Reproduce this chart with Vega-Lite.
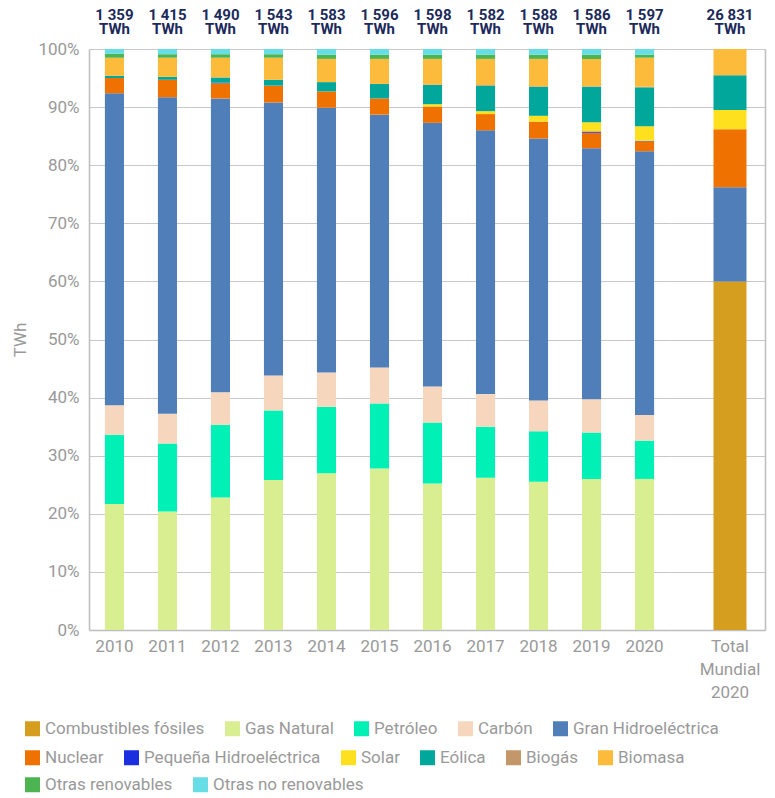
{
  "$schema": "https://vega.github.io/schema/vega-lite/v6.json",
  "background": "white",
  "padding": {"left": 11, "top": 8, "right": 8, "bottom": 5},
  "config": {
    "font": "Roboto",
    "view": {"stroke": null},
    "axis": {
      "labelFont": "Roboto", "labelFontSize": 17, "labelColor": "#999999",
      "titleFont": "Roboto", "titleFontSize": 17, "titleColor": "#999999", "titleFontWeight": "normal",
      "gridColor": "#c8c8c8", "gridWidth": 1, "domainColor": "#bdbdbd", "domainWidth": 1.5, "ticks": false
    },
    "legend": {
      "symbolType": "square", "symbolSize": 225, "symbolStrokeWidth": 0,
      "labelFont": "Roboto", "labelFontSize": 17, "labelColor": "#999999",
      "labelOffset": 4, "columnPadding": 19, "labelLimit": 400, "direction": "horizontal", "padding": 0
    }
  },
  "datasets": {
    "fuentes": [
      {"fuente": "Combustibles fósiles", "orden": 1},
      {"fuente": "Gas Natural", "orden": 2},
      {"fuente": "Petróleo", "orden": 3},
      {"fuente": "Carbón", "orden": 4},
      {"fuente": "Gran Hidroeléctrica", "orden": 5},
      {"fuente": "Nuclear", "orden": 6},
      {"fuente": "Pequeña Hidroeléctrica", "orden": 7},
      {"fuente": "Solar", "orden": 8},
      {"fuente": "Eólica", "orden": 9},
      {"fuente": "Biogás", "orden": 10},
      {"fuente": "Biomasa", "orden": 11},
      {"fuente": "Otras renovables", "orden": 12},
      {"fuente": "Otras no renovables", "orden": 13}
    ],
    "anual": [
      {"anio": "2010", "fuente": "Gas Natural", "valor": 21.7},
      {"anio": "2010", "fuente": "Petróleo", "valor": 11.9},
      {"anio": "2010", "fuente": "Carbón", "valor": 5.1},
      {"anio": "2010", "fuente": "Gran Hidroeléctrica", "valor": 53.7},
      {"anio": "2010", "fuente": "Nuclear", "valor": 2.6},
      {"anio": "2010", "fuente": "Eólica", "valor": 0.4},
      {"anio": "2010", "fuente": "Biomasa", "valor": 3.1},
      {"anio": "2010", "fuente": "Otras renovables", "valor": 0.7},
      {"anio": "2010", "fuente": "Otras no renovables", "valor": 0.8},
      {"anio": "2011", "fuente": "Gas Natural", "valor": 20.4},
      {"anio": "2011", "fuente": "Petróleo", "valor": 11.7},
      {"anio": "2011", "fuente": "Carbón", "valor": 5.1},
      {"anio": "2011", "fuente": "Gran Hidroeléctrica", "valor": 54.5},
      {"anio": "2011", "fuente": "Nuclear", "valor": 3.0},
      {"anio": "2011", "fuente": "Eólica", "valor": 0.5},
      {"anio": "2011", "fuente": "Biomasa", "valor": 3.3},
      {"anio": "2011", "fuente": "Otras renovables", "valor": 0.6},
      {"anio": "2011", "fuente": "Otras no renovables", "valor": 0.9},
      {"anio": "2012", "fuente": "Gas Natural", "valor": 22.8},
      {"anio": "2012", "fuente": "Petróleo", "valor": 12.5},
      {"anio": "2012", "fuente": "Carbón", "valor": 5.6},
      {"anio": "2012", "fuente": "Gran Hidroeléctrica", "valor": 50.6},
      {"anio": "2012", "fuente": "Nuclear", "valor": 2.6},
      {"anio": "2012", "fuente": "Pequeña Hidroeléctrica", "valor": 0.1},
      {"anio": "2012", "fuente": "Eólica", "valor": 0.9},
      {"anio": "2012", "fuente": "Biomasa", "valor": 3.4},
      {"anio": "2012", "fuente": "Otras renovables", "valor": 0.6},
      {"anio": "2012", "fuente": "Otras no renovables", "valor": 0.9},
      {"anio": "2013", "fuente": "Gas Natural", "valor": 25.8},
      {"anio": "2013", "fuente": "Petróleo", "valor": 12.0},
      {"anio": "2013", "fuente": "Carbón", "valor": 6.0},
      {"anio": "2013", "fuente": "Gran Hidroeléctrica", "valor": 47.0},
      {"anio": "2013", "fuente": "Nuclear", "valor": 2.9},
      {"anio": "2013", "fuente": "Eólica", "valor": 1.0},
      {"anio": "2013", "fuente": "Biomasa", "valor": 3.8},
      {"anio": "2013", "fuente": "Otras renovables", "valor": 0.6},
      {"anio": "2013", "fuente": "Otras no renovables", "valor": 0.9},
      {"anio": "2014", "fuente": "Gas Natural", "valor": 27.0},
      {"anio": "2014", "fuente": "Petróleo", "valor": 11.4},
      {"anio": "2014", "fuente": "Carbón", "valor": 5.9},
      {"anio": "2014", "fuente": "Gran Hidroeléctrica", "valor": 45.6},
      {"anio": "2014", "fuente": "Nuclear", "valor": 2.8},
      {"anio": "2014", "fuente": "Eólica", "valor": 1.6},
      {"anio": "2014", "fuente": "Biomasa", "valor": 4.0},
      {"anio": "2014", "fuente": "Otras renovables", "valor": 0.7},
      {"anio": "2014", "fuente": "Otras no renovables", "valor": 1.0},
      {"anio": "2015", "fuente": "Gas Natural", "valor": 27.8},
      {"anio": "2015", "fuente": "Petróleo", "valor": 11.2},
      {"anio": "2015", "fuente": "Carbón", "valor": 6.2},
      {"anio": "2015", "fuente": "Gran Hidroeléctrica", "valor": 43.5},
      {"anio": "2015", "fuente": "Nuclear", "valor": 2.8},
      {"anio": "2015", "fuente": "Eólica", "valor": 2.5},
      {"anio": "2015", "fuente": "Biomasa", "valor": 4.3},
      {"anio": "2015", "fuente": "Otras renovables", "valor": 0.7},
      {"anio": "2015", "fuente": "Otras no renovables", "valor": 1.0},
      {"anio": "2016", "fuente": "Gas Natural", "valor": 25.2},
      {"anio": "2016", "fuente": "Petróleo", "valor": 10.5},
      {"anio": "2016", "fuente": "Carbón", "valor": 6.2},
      {"anio": "2016", "fuente": "Gran Hidroeléctrica", "valor": 45.4},
      {"anio": "2016", "fuente": "Nuclear", "valor": 2.8},
      {"anio": "2016", "fuente": "Solar", "valor": 0.4},
      {"anio": "2016", "fuente": "Eólica", "valor": 3.3},
      {"anio": "2016", "fuente": "Biogás", "valor": 0.1},
      {"anio": "2016", "fuente": "Biomasa", "valor": 4.4},
      {"anio": "2016", "fuente": "Otras renovables", "valor": 0.7},
      {"anio": "2016", "fuente": "Otras no renovables", "valor": 1.0},
      {"anio": "2017", "fuente": "Gas Natural", "valor": 26.2},
      {"anio": "2017", "fuente": "Petróleo", "valor": 8.8},
      {"anio": "2017", "fuente": "Carbón", "valor": 5.6},
      {"anio": "2017", "fuente": "Gran Hidroeléctrica", "valor": 45.4},
      {"anio": "2017", "fuente": "Nuclear", "valor": 2.8},
      {"anio": "2017", "fuente": "Solar", "valor": 0.5},
      {"anio": "2017", "fuente": "Eólica", "valor": 4.4},
      {"anio": "2017", "fuente": "Biogás", "valor": 0.1},
      {"anio": "2017", "fuente": "Biomasa", "valor": 4.5},
      {"anio": "2017", "fuente": "Otras renovables", "valor": 0.7},
      {"anio": "2017", "fuente": "Otras no renovables", "valor": 1.0},
      {"anio": "2018", "fuente": "Gas Natural", "valor": 25.5},
      {"anio": "2018", "fuente": "Petróleo", "valor": 8.7},
      {"anio": "2018", "fuente": "Carbón", "valor": 5.3},
      {"anio": "2018", "fuente": "Gran Hidroeléctrica", "valor": 45.1},
      {"anio": "2018", "fuente": "Nuclear", "valor": 2.9},
      {"anio": "2018", "fuente": "Solar", "valor": 1.0},
      {"anio": "2018", "fuente": "Eólica", "valor": 5.0},
      {"anio": "2018", "fuente": "Biogás", "valor": 0.1},
      {"anio": "2018", "fuente": "Biomasa", "valor": 4.7},
      {"anio": "2018", "fuente": "Otras renovables", "valor": 0.7},
      {"anio": "2018", "fuente": "Otras no renovables", "valor": 1.0},
      {"anio": "2019", "fuente": "Gas Natural", "valor": 26.0},
      {"anio": "2019", "fuente": "Petróleo", "valor": 8.0},
      {"anio": "2019", "fuente": "Carbón", "valor": 5.7},
      {"anio": "2019", "fuente": "Gran Hidroeléctrica", "valor": 43.2},
      {"anio": "2019", "fuente": "Nuclear", "valor": 2.7},
      {"anio": "2019", "fuente": "Pequeña Hidroeléctrica", "valor": 0.2},
      {"anio": "2019", "fuente": "Solar", "valor": 1.6},
      {"anio": "2019", "fuente": "Eólica", "valor": 6.1},
      {"anio": "2019", "fuente": "Biogás", "valor": 0.1},
      {"anio": "2019", "fuente": "Biomasa", "valor": 4.7},
      {"anio": "2019", "fuente": "Otras renovables", "valor": 0.7},
      {"anio": "2019", "fuente": "Otras no renovables", "valor": 1.0},
      {"anio": "2020", "fuente": "Gas Natural", "valor": 26.0},
      {"anio": "2020", "fuente": "Petróleo", "valor": 6.6},
      {"anio": "2020", "fuente": "Carbón", "valor": 4.4},
      {"anio": "2020", "fuente": "Gran Hidroeléctrica", "valor": 45.4},
      {"anio": "2020", "fuente": "Nuclear", "valor": 1.7},
      {"anio": "2020", "fuente": "Pequeña Hidroeléctrica", "valor": 0.1},
      {"anio": "2020", "fuente": "Solar", "valor": 2.5},
      {"anio": "2020", "fuente": "Eólica", "valor": 6.7},
      {"anio": "2020", "fuente": "Biogás", "valor": 0.1},
      {"anio": "2020", "fuente": "Biomasa", "valor": 5.0},
      {"anio": "2020", "fuente": "Otras renovables", "valor": 0.5},
      {"anio": "2020", "fuente": "Otras no renovables", "valor": 1.0}
    ],
    "mundial": [
      {"anio": "Total Mundial 2020", "fuente": "Combustibles fósiles", "valor": 60.0},
      {"anio": "Total Mundial 2020", "fuente": "Gran Hidroeléctrica", "valor": 16.2},
      {"anio": "Total Mundial 2020", "fuente": "Nuclear", "valor": 10.0},
      {"anio": "Total Mundial 2020", "fuente": "Solar", "valor": 3.3},
      {"anio": "Total Mundial 2020", "fuente": "Eólica", "valor": 6.0},
      {"anio": "Total Mundial 2020", "fuente": "Biomasa", "valor": 4.5}
    ],
    "totales": [
      {"anio": "2010", "etiqueta": "1 359\nTWh"},
      {"anio": "2011", "etiqueta": "1 415\nTWh"},
      {"anio": "2012", "etiqueta": "1 490\nTWh"},
      {"anio": "2013", "etiqueta": "1 543\nTWh"},
      {"anio": "2014", "etiqueta": "1 583\nTWh"},
      {"anio": "2015", "etiqueta": "1 596\nTWh"},
      {"anio": "2016", "etiqueta": "1 598\nTWh"},
      {"anio": "2017", "etiqueta": "1 582\nTWh"},
      {"anio": "2018", "etiqueta": "1 588\nTWh"},
      {"anio": "2019", "etiqueta": "1 586\nTWh"},
      {"anio": "2020", "etiqueta": "1 597\nTWh"}
    ],
    "total_mundial": [
      {"anio": "Total Mundial 2020", "etiqueta": "26 831\nTWh"}
    ]
  },
  "spacing": 0,
  "bounds": "flush",
  "resolve": {"scale": {"color": "independent", "x": "independent", "y": "independent"}, "axis": {"y": "independent", "x": "independent"}},
  "hconcat": [
    {
      "width": 581,
      "height": 581,
      "resolve": {"scale": {"color": "independent"}},
      "layer": [
        {
          "data": {"name": "anual"},
          "transform": [{"lookup": "fuente", "from": {"data": {"name": "fuentes"}, "key": "fuente", "fields": ["orden"]}}],
          "mark": {"type": "bar"},
          "encoding": {
            "x": {"field": "anio", "type": "nominal", "scale": {"paddingInner": 0.64, "paddingOuter": 0.3},
                  "axis": {"title": null, "labelAngle": 0, "labelPadding": 8, "domain": true, "grid": false}},
            "y": {"field": "valor", "type": "quantitative", "stack": "zero", "scale": {"domain": [0, 100], "nice": false},
                  "axis": {"title": "TWh", "values": [0, 10, 20, 30, 40, 50, 60, 70, 80, 90, 100], "labelExpr": "datum.value + '%'", "labelPadding": 10, "titlePadding": 8, "grid": true, "domain": true}},
            "order": {"field": "orden", "type": "quantitative", "sort": "ascending"},
            "color": {"field": "fuente", "type": "nominal",
                      "scale": {"domain": ["Combustibles fósiles", "Gas Natural", "Petróleo", "Carbón", "Gran Hidroeléctrica", "Nuclear", "Pequeña Hidroeléctrica", "Solar", "Eólica", "Biogás", "Biomasa", "Otras renovables", "Otras no renovables"],
                                "range": ["#D59E1F", "#D9EE90", "#00F0B5", "#F6D6BC", "#507EB8", "#EF7100", "#1B2EE0", "#FFE01E", "#00A79A", "#C3976A", "#FDBB3B", "#4CB450", "#67DDE5"]},
                      "legend": {"title": null, "orient": "none", "legendX": -65, "legendY": 671, "values": ["Combustibles fósiles", "Gas Natural", "Petróleo", "Carbón", "Gran Hidroeléctrica"]}}
          }
        },
        {
          "data": {"name": "anual"},
          "transform": [{"filter": "false"}],
          "mark": {"type": "bar"},
          "encoding": {
            "x": {"field": "anio", "type": "nominal"},
            "y": {"field": "valor", "type": "quantitative", "stack": "zero"},
            "color": {"field": "fuente", "type": "nominal",
                      "scale": {"domain": ["Combustibles fósiles", "Gas Natural", "Petróleo", "Carbón", "Gran Hidroeléctrica", "Nuclear", "Pequeña Hidroeléctrica", "Solar", "Eólica", "Biogás", "Biomasa", "Otras renovables", "Otras no renovables"],
                                "range": ["#D59E1F", "#D9EE90", "#00F0B5", "#F6D6BC", "#507EB8", "#EF7100", "#1B2EE0", "#FFE01E", "#00A79A", "#C3976A", "#FDBB3B", "#4CB450", "#67DDE5"]},
                      "legend": {"title": null, "orient": "none", "legendX": -65, "legendY": 700, "values": ["Nuclear", "Pequeña Hidroeléctrica", "Solar", "Eólica", "Biogás", "Biomasa"]}}
          }
        },
        {
          "data": {"name": "anual"},
          "transform": [{"filter": "false"}],
          "mark": {"type": "bar"},
          "encoding": {
            "x": {"field": "anio", "type": "nominal"},
            "y": {"field": "valor", "type": "quantitative", "stack": "zero"},
            "color": {"field": "fuente", "type": "nominal",
                      "scale": {"domain": ["Combustibles fósiles", "Gas Natural", "Petróleo", "Carbón", "Gran Hidroeléctrica", "Nuclear", "Pequeña Hidroeléctrica", "Solar", "Eólica", "Biogás", "Biomasa", "Otras renovables", "Otras no renovables"],
                                "range": ["#D59E1F", "#D9EE90", "#00F0B5", "#F6D6BC", "#507EB8", "#EF7100", "#1B2EE0", "#FFE01E", "#00A79A", "#C3976A", "#FDBB3B", "#4CB450", "#67DDE5"]},
                      "legend": {"title": null, "orient": "none", "legendX": -65, "legendY": 727, "values": ["Otras renovables", "Otras no renovables"]}}
          }
        },
        {
          "data": {"name": "totales"},
          "mark": {"type": "text", "font": "Roboto", "fontWeight": "bold", "fontSize": 15, "color": "#1C2A5B", "baseline": "bottom", "align": "center", "dy": -26, "lineBreak": "\n", "lineHeight": 13.5},
          "encoding": {
            "x": {"field": "anio", "type": "nominal"},
            "y": {"datum": 100},
            "text": {"field": "etiqueta"}
          }
        }
      ]
    },
    {
      "width": 95,
      "height": 581,
      "layer": [
        {
          "data": {"name": "mundial"},
          "transform": [{"lookup": "fuente", "from": {"data": {"name": "fuentes"}, "key": "fuente", "fields": ["orden"]}}],
          "mark": {"type": "bar", "width": 33},
          "encoding": {
            "x": {"field": "anio", "type": "nominal", "scale": {"paddingInner": 0, "paddingOuter": 0.5, "align": 0.763},
                  "axis": {"title": null, "labelAngle": 0, "labelPadding": 8, "labelExpr": "split(datum.label, ' ')", "labelLineHeight": 23, "domain": true, "grid": false}},
            "y": {"field": "valor", "type": "quantitative", "stack": "zero", "scale": {"domain": [0, 100], "nice": false},
                  "axis": {"orient": "right", "title": null, "labels": false, "values": [0, 10, 20, 30, 40, 50, 60, 70, 80, 90, 100], "grid": true, "domain": true}},
            "order": {"field": "orden", "type": "quantitative", "sort": "ascending"},
            "color": {"field": "fuente", "type": "nominal",
                      "scale": {"domain": ["Combustibles fósiles", "Gas Natural", "Petróleo", "Carbón", "Gran Hidroeléctrica", "Nuclear", "Pequeña Hidroeléctrica", "Solar", "Eólica", "Biogás", "Biomasa", "Otras renovables", "Otras no renovables"],
                                "range": ["#D59E1F", "#D9EE90", "#00F0B5", "#F6D6BC", "#507EB8", "#EF7100", "#1B2EE0", "#FFE01E", "#00A79A", "#C3976A", "#FDBB3B", "#4CB450", "#67DDE5"]},
                      "legend": null}
          }
        },
        {
          "data": {"name": "total_mundial"},
          "mark": {"type": "text", "font": "Roboto", "fontWeight": "bold", "fontSize": 15, "color": "#1C2A5B", "baseline": "bottom", "align": "center", "dy": -26, "lineBreak": "\n", "lineHeight": 13.5},
          "encoding": {
            "x": {"field": "anio", "type": "nominal"},
            "y": {"datum": 100},
            "text": {"field": "etiqueta"}
          }
        }
      ]
    }
  ]
}
